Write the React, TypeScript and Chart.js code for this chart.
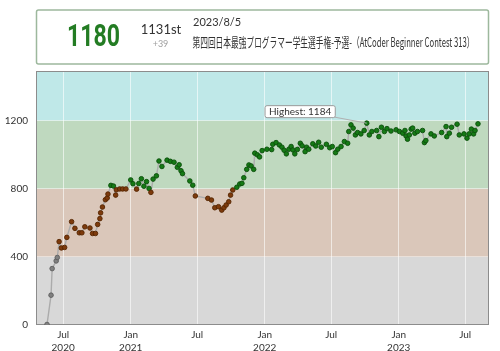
import React, { useEffect, useRef } from 'react';
import { Chart, registerables } from 'chart.js';

Chart.register(...registerables);

// Contest dates as days since 2020-01-01, and the rating after each contest
const contestDays = [
  138, 149, 152, 163, 166, 171, 177, 186, 192, 205, 214, 226, 233, 241, 255, 262, 270, 276, 282, 284,
  289, 297, 302, 304, 312, 319, 325, 327, 336, 344, 353, 366, 372, 382, 388, 395, 402, 409, 416, 421,
  427, 436, 443, 451, 465, 474, 484, 493, 498, 503, 507, 527, 535, 542, 576, 586, 595, 605, 614, 620,
  626, 633, 638, 644, 655, 663, 669, 674, 682, 688, 694, 701, 704, 711, 717, 724, 737, 750, 753, 762,
  771, 778, 784, 790, 797, 803, 808, 813, 820, 828, 833, 841, 845, 851, 862, 870, 878, 885, 899, 908,
  915, 924, 930, 939, 948, 957, 960, 966, 972, 978, 984, 993, 1002, 1009, 1016, 1023, 1036, 1042, 1049, 1057,
  1064, 1075, 1089, 1098, 1107, 1113, 1116, 1120, 1125, 1130, 1134, 1140, 1147, 1161, 1166, 1170, 1184, 1193, 1213, 1225,
  1227, 1234, 1240, 1255, 1261, 1274, 1282, 1288, 1294, 1300, 1304, 1312,
];
const ratings = [
  3, 175, 331, 376, 396, 489, 452, 455, 514, 606, 567, 541, 541, 576, 569, 537, 537, 590, 624, 658,
  692, 735, 745, 768, 819, 815, 762, 793, 798, 798, 798, 851, 829, 797, 830, 858, 814, 841, 801, 778,
  856, 875, 962, 930, 967, 960, 955, 925, 940, 905, 888, 845, 820, 757, 743, 733, 688, 694, 674, 688,
  704, 723, 762, 792, 808, 827, 831, 864, 913, 939, 933, 913, 1008, 998, 986, 1023, 1031, 1029, 1060, 1070,
  1056, 1043, 1025, 1004, 1031, 1047, 1027, 1004, 1030, 1066, 1051, 1017, 1043, 1031, 1063, 1050, 1072, 1043, 1060, 1040,
  1047, 1011, 1031, 1047, 1076, 1066, 1135, 1174, 1155, 1115, 1129, 1121, 1141, 1184, 1115, 1135, 1141, 1105, 1160, 1135,
  1152, 1138, 1145, 1135, 1125, 1141, 1109, 1090, 1115, 1149, 1155, 1125, 1135, 1141, 1070, 1082, 1121, 1109, 1129, 1164,
  1105, 1125, 1160, 1178, 1115, 1121, 1096, 1121, 1149, 1121, 1141, 1180,
];

const xTickDays = [182, 366, 547, 731, 912, 1096, 1277];
const xTickLabels = [['Jul', '2020'], ['Jan', '2021'], ['Jul'], ['Jan', '2022'], ['Jul'], ['Jan', '2023'], ['Jul']];
const yTickValues = [0, 400, 800, 1200];
const bandLimits = [0, 400, 800, 1200, 1600];
const bandColors = ['#d8d8d8', '#dac7ba', '#bfd9bf', '#bfe8e8'];
const dotFills = ['#808080', '#7d3a0c', '#157a15', '#00a8a8'];
const dotStrokes = ['#5e5e5e', '#552500', '#0b4f0b', '#007070'];

const latestRating = '1180';
const latestRank = '1131st';
const latestDelta = '+39';
const latestDate = '2023/8/5';
const latestContest = '第四回日本最強プログラマー学生選手権-予選-（AtCoder Beginner Contest 313）';

function bandIndex(r: number) {
  for (let i = bandLimits.length - 2; i >= 0; i--) if (r >= bandLimits[i]) return i;
  return 0;
}

const bandsPlugin = {
  id: 'bands',
  beforeDraw(chart: any) {
    const { ctx, chartArea, scales } = chart;
    const y = scales.y;
    ctx.save();
    for (let i = 0; i < bandColors.length; i++) {
      const lo = bandLimits[i];
      const hi = Math.min(bandLimits[i + 1], y.max);
      if (lo >= y.max) continue;
      const top = y.getPixelForValue(hi);
      const bot = y.getPixelForValue(lo);
      ctx.fillStyle = bandColors[i];
      ctx.fillRect(chartArea.left, top, chartArea.right - chartArea.left, bot - top);
    }
    ctx.restore();
  },
  beforeDatasetsDraw(chart: any) {
    const { ctx, chartArea } = chart;
    ctx.save();
    ctx.strokeStyle = '#8c8c8c';
    ctx.lineWidth = 1;
    ctx.strokeRect(chartArea.left + 0.5, chartArea.top + 0.5, chartArea.right - chartArea.left - 1, chartArea.bottom - chartArea.top - 1);
    ctx.restore();
  },
  afterDatasetsDraw(chart: any) {
    const { ctx, scales } = chart;
    let hi = 0;
    for (let i = 1; i < ratings.length; i++) if (ratings[i] > ratings[hi]) hi = i;
    const px = scales.x.getPixelForValue(contestDays[hi]);
    const py = scales.y.getPixelForValue(ratings[hi]);
    const text = 'Highest: ' + ratings[hi];
    ctx.save();
    ctx.font = '10px Lato';
    const w = ctx.measureText(text).width + 8;
    const h = 12;
    const right = px - 32;
    const top = py - 18;
    ctx.strokeStyle = '#b0b0b0';
    ctx.lineWidth = 1;
    ctx.beginPath();
    ctx.moveTo(right, top + h);
    ctx.lineTo(px, py);
    ctx.stroke();
    ctx.fillStyle = '#ffffff';
    ctx.strokeStyle = '#9a9a9a';
    ctx.beginPath();
    (ctx as any).roundRect(right - w + 0.5, top + 0.5, w, h, 2);
    ctx.fill();
    ctx.stroke();
    ctx.fillStyle = '#333';
    ctx.textAlign = 'center';
    ctx.textBaseline = 'middle';
    ctx.fillText(text, right - w / 2 + 0.5, top + h / 2 + 1);
    ctx.restore();
  },
  afterDraw(chart: any) {
    const { ctx } = chart;
    ctx.save();
    // header box
    ctx.fillStyle = '#ffffff';
    ctx.strokeStyle = '#9db89d';
    ctx.lineWidth = 1.5;
    ctx.beginPath();
    (ctx as any).roundRect(36.5, 10, 452, 54, 2);
    ctx.fill();
    ctx.stroke();
    ctx.textBaseline = 'alphabetic';
    ctx.textAlign = 'center';
    ctx.fillStyle = '#237c23';
    ctx.font = 'bold 31px Roboto';
    ctx.fillText(latestRating, 93.5, 46, 53);
    ctx.fillStyle = '#333';
    ctx.font = '13px Lato';
    ctx.fillText(latestRank, 161, 34);
    ctx.fillStyle = '#a0a0a0';
    ctx.font = '9px Lato';
    ctx.fillText(latestDelta, 160.5, 47);
    ctx.textAlign = 'left';
    ctx.fillStyle = '#333';
    ctx.font = '11px Lato';
    ctx.fillText(latestDate, 193, 26);
    ctx.font = '13px "Noto Sans CJK JP"';
    ctx.fillText(latestContest, 192.5, 47, 282);
    ctx.restore();
  },
};

export default function App() {
  const ref = useRef<HTMLCanvasElement>(null);
  useEffect(() => {
    const chart = new Chart(ref.current as HTMLCanvasElement, {
      type: 'line',
      data: {
        datasets: [
          {
            data: contestDays.map((d, i) => ({ x: d, y: ratings[i] })),
            borderColor: '#ababab',
            borderWidth: 1.4,
            pointRadius: 2.3,
            pointBorderWidth: 0.9,
            pointBackgroundColor: (c: any) => dotFills[bandIndex(ratings[c.dataIndex] ?? 0)],
            pointBorderColor: (c: any) => dotStrokes[bandIndex(ratings[c.dataIndex] ?? 0)],
            tension: 0,
          },
        ],
      },
      options: {
        responsive: false,
        devicePixelRatio: 1,
        animation: false,
        events: [],
        layout: { padding: { top: 71, right: 11, left: 0, bottom: 0 } },
        plugins: { legend: { display: false }, tooltip: { enabled: false } },
        scales: {
          x: {
            type: 'linear',
            min: contestDays[0] - 30,
            max: contestDays[contestDays.length - 1] + 30,
            afterBuildTicks: (s: any) => {
              s.ticks = xTickDays.map((v) => ({ value: v }));
            },
            afterFit: (s: any) => {
              s.height = 26;
            },
            grid: { color: 'rgba(255,255,255,0.6)', lineWidth: 1, drawTicks: false },
            border: { display: false },
            ticks: {
              autoSkip: false,
              maxRotation: 0,
              padding: 3,
              color: '#333',
              font: { family: 'Lato', size: 10, lineHeight: 1.35 },
              callback: (_v: any, i: number) => xTickLabels[i],
            },
          },
          y: {
            min: 0,
            max: 1490,
            afterBuildTicks: (s: any) => {
              s.ticks = yTickValues.map((v) => ({ value: v }));
            },
            afterFit: (s: any) => {
              s.width = 36;
            },
            grid: { color: 'rgba(255,255,255,0.35)', lineWidth: 1, drawTicks: false },
            border: { display: false },
            ticks: {
              padding: 8,
              color: '#333',
              font: { family: 'Lato', size: 10 },
              callback: (v: any) => String(v),
            },
          },
        },
      } as any,
      plugins: [bandsPlugin],
    });
    return () => chart.destroy();
  }, []);
  return (
    <div style={{ position: 'absolute', left: 0, top: 0, width: 500, height: 351, background: '#fff' }}>
      <canvas ref={ref} width={500} height={351} style={{ display: 'block', width: 500, height: 351 }} />
    </div>
  );
}
